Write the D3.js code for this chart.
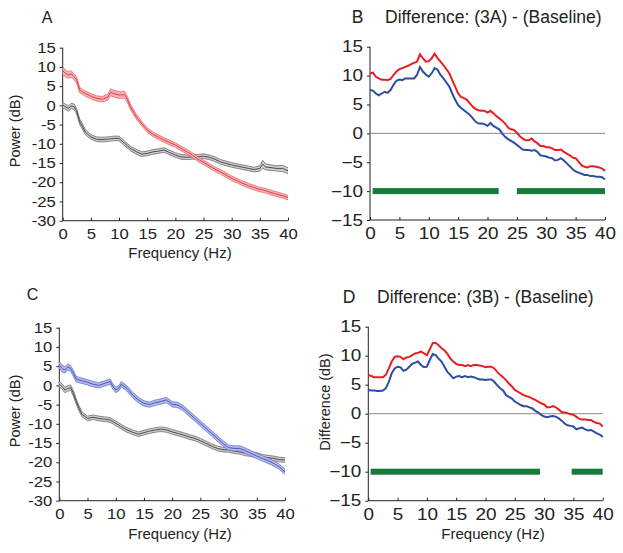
<!DOCTYPE html>
<html><head><meta charset="utf-8">
<script src="https://cdn.jsdelivr.net/npm/d3@7"></script>
<style>
html,body{margin:0;padding:0;background:#fff;}
svg{display:block;}
</style></head>
<body>
<svg id="chart" width="623" height="553"></svg>
<script>
// ---------------- DATA ----------------
const xTicks = [0,5,10,15,20,25,30,35,40];
const yTicksPower = [15,10,5,0,-5,-10,-15,-20,-25,-30];
const yTicksDiff = [15,10,5,0,-5,-10,-15];

// Panel A
const freqA = [0,0.5,1,1.5,2,2.5,3,3.5,4,5,6,7,8,8.5,9,10,11,11.5,12,13,14,15,16,17,18,19,20,21,22,23,24,25,26,27,28,29,30,31,32,33,34,35,35.5,36,37,38,39,40];
const powerA_3A = [9.0,8.3,7.9,8.2,7.5,6.5,4.0,3.5,3.1,2.4,1.8,1.6,2.1,3.4,3.1,2.7,2.8,1.5,-0.3,-2.8,-4.7,-6.4,-7.5,-8.3,-9.0,-9.7,-10.3,-11.2,-12.0,-12.9,-14.0,-14.8,-15.7,-16.6,-17.3,-18.1,-19.0,-19.6,-20.3,-20.9,-21.4,-21.9,-22.0,-22.2,-22.7,-23.1,-23.5,-24.0];
const semA_3A = [1.0,0.9,0.9,0.8,0.8,0.8,0.7,0.7,0.7,0.7,0.7,0.7,0.8,0.9,0.9,0.9,0.9,0.8,0.7,0.7,0.6,0.6,0.6,0.6,0.6,0.6,0.6,0.6,0.6,0.6,0.6,0.6,0.6,0.6,0.6,0.6,0.6,0.6,0.6,0.6,0.6,0.6,0.6,0.6,0.6,0.6,0.6,0.6];
const powerA_base = [0.1,-0.4,-0.8,-0.2,-0.3,-1.6,-4.2,-5.5,-6.9,-8.2,-8.8,-8.9,-8.8,-8.7,-8.6,-8.6,-9.9,-10.5,-11.2,-12.0,-12.7,-12.5,-12.1,-11.9,-11.6,-12.3,-12.9,-13.4,-13.5,-13.4,-13.4,-13.2,-13.5,-14.0,-14.7,-15.1,-15.5,-15.8,-16.1,-16.4,-16.7,-16.4,-15.3,-16.0,-16.2,-16.4,-16.4,-17.0];
const semA_base = [0.7,0.7,0.7,0.7,0.7,0.7,0.7,0.7,0.7,0.6,0.6,0.6,0.6,0.6,0.6,0.6,0.6,0.6,0.6,0.6,0.6,0.6,0.6,0.6,0.6,0.6,0.6,0.6,0.6,0.6,0.6,0.6,0.6,0.6,0.6,0.6,0.6,0.6,0.6,0.6,0.6,0.7,1.0,0.8,0.7,0.7,0.8,0.8];

// Panel C
const freqC = [0,0.5,1,1.5,2,2.5,3,3.5,4,5,6,7,8,9,9.5,10,10.5,11,12,13,14,15,16,17,18,19,20,21,22,23,24,25,26,27,28,29,30,31,32,33,34,35,36,37,38,39,40];
const powerC_3B = [5.3,4.4,4.0,4.8,4.4,3.1,1.6,1.4,1.2,0.8,0.3,0.0,0.5,1.0,-0.3,-1.2,-0.8,0.3,-0.8,-2.5,-3.8,-4.7,-5.0,-4.5,-4.2,-3.8,-4.9,-5.1,-6.0,-7.3,-8.6,-9.9,-11.2,-12.5,-13.8,-15.1,-16.2,-16.4,-16.4,-17.0,-17.7,-18.4,-19.0,-19.6,-20.3,-21.2,-22.5];
const semC_3B = [0.9,0.9,0.8,0.8,0.8,0.8,0.7,0.7,0.7,0.7,0.7,0.7,0.7,0.7,0.7,0.7,0.7,0.7,0.7,0.7,0.7,0.7,0.7,0.7,0.7,0.7,0.7,0.7,0.7,0.7,0.7,0.7,0.7,0.7,0.7,0.7,0.7,0.7,0.7,0.7,0.7,0.7,0.7,0.7,0.7,0.7,0.7];
const powerC_base = [0.3,-0.3,-1.2,-0.8,-0.6,-2.1,-4.2,-6.0,-7.5,-8.6,-8.3,-8.6,-8.8,-9.0,-9.4,-9.9,-10.3,-10.8,-11.6,-12.2,-12.7,-12.3,-11.9,-11.6,-11.4,-11.6,-12.1,-12.5,-12.9,-13.4,-13.8,-14.4,-15.1,-15.8,-16.4,-16.7,-16.8,-17.1,-17.3,-17.7,-17.9,-18.1,-18.6,-18.8,-19.0,-19.3,-19.4];
const semC_base = [0.7,0.7,0.7,0.7,0.7,0.7,0.7,0.7,0.6,0.6,0.6,0.6,0.6,0.6,0.6,0.6,0.6,0.6,0.6,0.6,0.6,0.6,0.6,0.6,0.6,0.6,0.6,0.6,0.6,0.6,0.6,0.6,0.6,0.6,0.6,0.6,0.6,0.6,0.6,0.6,0.6,0.6,0.6,0.6,0.6,0.6,0.6];

// Panels B and D (0.5 Hz grid)
const freqDiff = [0,0.5,1,1.5,2,2.5,3,3.5,4,4.5,5,5.5,6,6.5,7,7.5,8,8.5,9,9.5,10,10.5,11,11.5,12,12.5,13,13.5,14,14.5,15,15.5,16,16.5,17,17.5,18,18.5,19,19.5,20,20.5,21,21.5,22,22.5,23,23.5,24,24.5,25,25.5,26,26.5,27,27.5,28,28.5,29,29.5,30,30.5,31,31.5,32,32.5,33,33.5,34,34.5,35,35.5,36,36.5,37,37.5,38,38.5,39,39.5,40];
const diffB_upper = [10.4,10.5,9.8,9.5,9.3,9.3,9.2,9.4,10.1,10.7, 11.1,11.3,11.5,11.7,12.0,12.2,12.4,13.7,13.0,12.4, 12.5,13.0,13.8,13.0,12.4,11.8,11.1,10.4,9.2,8.1, 6.9,6.3,6.1,5.8,5.2,4.6,4.2,4.0,3.9,3.9, 3.6,3.9,3.5,3.0,2.6,2.2,1.7,1.0,0.7,0.6, 0.1,-0.5,-0.9,-1.2,-1.2,-0.9,-1.4,-1.7,-2.2,-2.2, -2.4,-2.4,-2.6,-2.9,-2.9,-2.8,-3.2,-3.5,-3.8,-4.2, -4.3,-4.9,-5.5,-5.8,-5.9,-5.7,-5.7,-5.8,-5.9,-6.1,-6.5];
const diffB_lower = [7.5,7.4,6.9,6.6,6.9,7.2,7.0,7.5,8.4,9.1, 9.3,9.2,9.5,9.5,9.5,9.5,10.1,11.5,10.7,10.2, 9.8,10.4,11.3,11.0,10.1,9.5,8.8,8.1,6.9,5.8, 4.9,4.4,4.0,3.6,3.2,2.6,2.0,1.7,1.7,1.6, 1.3,1.8,1.3,1.0,0.7,0.0,-0.6,-1.0,-1.3,-1.6, -2.0,-2.4,-2.8,-2.9,-2.9,-3.0,-2.9,-3.2,-3.8,-3.9, -4.0,-4.2,-4.3,-4.7,-4.6,-4.3,-4.7,-5.2,-5.7,-6.2, -6.6,-6.8,-7.0,-7.2,-7.2,-7.4,-7.4,-7.5,-7.5,-7.6,-8.0];
const diffD_upper = [6.7,6.5,6.3,6.3,6.3,6.3,6.7,7.8,9.0,9.8, 9.9,9.8,9.4,9.7,9.8,10.1,10.4,10.5,10.7,10.4, 10.1,11.1,12.2,12.2,11.8,11.3,10.9,10.3,9.5,9.0, 8.6,8.4,8.4,8.2,8.4,8.2,8.4,8.4,8.3,8.2, 8.0,8.1,8.1,7.8,7.2,6.7,6.3,5.8,5.2,4.7, 4.1,3.8,3.5,3.2,3.0,2.9,2.6,2.4,2.1,1.8, 1.6,1.1,1.1,1.3,1.1,0.7,0.3,0.2,0.1,-0.1, -0.2,-0.5,-0.9,-1.0,-1.0,-1.1,-1.1,-1.4,-1.6,-1.7,-2.2];
const diffD_lower = [4.1,4.0,4.0,3.9,3.9,4.0,4.4,5.5,7.0,7.8, 8.1,8.0,7.4,7.6,8.1,8.6,8.8,9.0,8.4,8.0, 8.1,9.3,10.3,10.1,9.5,9.0,8.1,7.2,6.7,6.1, 6.4,6.5,6.3,6.5,6.3,6.4,6.3,6.1,5.9,5.9, 5.8,5.9,5.9,5.5,4.9,4.4,4.0,3.2,2.9,2.6, 2.1,1.8,1.5,1.3,1.3,1.1,0.9,0.5,0.2,-0.2, -0.5,-0.6,-0.5,-0.4,-0.5,-0.8,-1.2,-1.7,-2.0,-2.1, -2.2,-2.7,-2.5,-2.4,-2.7,-2.9,-2.8,-3.1,-3.4,-3.6,-4.0];

// significance bars [start Hz, end Hz] at -10
const sigB = [[0.45,21.9],[25,40]];
const sigD = [[0.4,29.3],[34.7,40]];
const sigLevel = -10;

// ---------------- DRAW ----------------
const svg = d3.select("#chart");
const sansA = "'Liberation Sans', Arial, sans-serif";

function axesPanel(o){
  const g = svg.append("g");
  const x = d3.scaleLinear().domain([0,40]).range([o.left,o.right]);
  const y = d3.scaleLinear().domain(o.yDomain).range([o.bottom,o.top]);
  const fmt = o.hyphen ? (d=>String(d)) : d3.format("");
  const ya = g.append("g").attr("transform",`translate(${o.left},0)`)
    .call(d3.axisLeft(y).tickValues(o.yTicks).tickSize(3).tickPadding(4).tickFormat(fmt));
  const xa = g.append("g").attr("transform",`translate(0,${o.bottom})`)
    .call(d3.axisBottom(x).tickValues(xTicks).tickSize(-3).tickPadding(8).tickFormat(fmt));
  [ya,xa].forEach(a=>{
    a.select(".domain").attr("stroke","#222").attr("stroke-width",1);
    a.selectAll(".tick line").attr("stroke","#222");
    a.selectAll("text").attr("fill","#222").attr("font-family",sansA).attr("font-size",o.tickFont);
  });
  // horizontally widened tick labels, as in the reference
  ya.selectAll("text").attr("x",-7/o.sx).attr("transform",`scale(${o.sx},1)`);
  xa.selectAll("text").attr("transform",`scale(${o.sx},1)`);
  xa.select(".domain").attr("d",`M${o.left},0H${o.right}`);
  ya.select(".domain").attr("d",`M0,${o.bottom}V${o.top}`);
  return {g,x,y};
}

function band(p, freq, mean, sem, fill, edge, center){
  const data = freq.map((f,i)=>({f, m:mean[i], s:sem[i]}));
  p.g.append("path").datum(data)
    .attr("d", d3.area().x(d=>p.x(d.f)).y0(d=>p.y(d.m-d.s)).y1(d=>p.y(d.m+d.s)))
    .attr("fill",fill).attr("stroke","none");
  [1,-1].forEach(sg=>{
    p.g.append("path").datum(data)
      .attr("d", d3.line().x(d=>p.x(d.f)).y(d=>p.y(d.m+sg*d.s)))
      .attr("fill","none").attr("stroke",edge).attr("stroke-width",0.7);
  });
  p.g.append("path").datum(data)
    .attr("d", d3.line().x(d=>p.x(d.f)).y(d=>p.y(d.m)))
    .attr("fill","none").attr("stroke",center).attr("stroke-width",0.9);
}

function diffLines(p, upper, lower, sig){
  p.g.append("line").attr("x1",p.x(0)).attr("x2",p.x(40)).attr("y1",p.y(0)).attr("y2",p.y(0))
    .attr("stroke","#8a8a8a").attr("stroke-width",1);
  sig.forEach(s=>{
    p.g.append("rect").attr("x",p.x(s[0])).attr("width",p.x(s[1])-p.x(s[0]))
      .attr("y",p.y(sigLevel)-3).attr("height",6).attr("fill","#17793a");
  });
  const ln = d3.line().x((d,i)=>p.x(freqDiff[i])).y(d=>p.y(d));
  p.g.append("path").datum(lower).attr("d",ln).attr("fill","none").attr("stroke","#2f4ca3").attr("stroke-width",2);
  p.g.append("path").datum(upper).attr("d",ln).attr("fill","none").attr("stroke","#ec1c24").attr("stroke-width",2);
}

function text(x,y,str,size,anchor,rot){
  const t = svg.append("text").attr("x",x).attr("y",y).text(str)
    .attr("font-family",sansA).attr("font-size",size).attr("fill","#222")
    .attr("text-anchor",anchor||"start");
  if(rot) t.attr("transform",`rotate(-90,${x},${y})`);
  return t;
}

// Panel A
const pA = axesPanel({left:62.7,right:288,top:47.7,bottom:220.7,yDomain:[-30,15],yTicks:yTicksPower,hyphen:true,tickFont:14.5,sx:1.15});
band(pA, freqA, powerA_base, semA_base, "#cfcfcf", "#5a5a5a", "#3a3a3a");
band(pA, freqA, powerA_3A, semA_3A, "#f7b2b7", "#e55b64", "#d8323c");
text(47,23,"A",16,"middle");
text(180,258,"Frequency (Hz)",15,"middle");
text(20,131,"Power (dB)",14.5,"middle",true);

// Panel B
const pB = axesPanel({left:370,right:605,top:46.7,bottom:220,yDomain:[-15,15],yTicks:yTicksDiff,hyphen:false,tickFont:16,sx:1.18});
diffLines(pB, diffB_upper, diffB_lower, sigB);
text(357.5,23,"B",17.5,"middle");
text(385,23,"Difference: (3A) - (Baseline)",17.5,"start");

// Panel C
const pC = axesPanel({left:59.3,right:285,top:327.7,bottom:500.7,yDomain:[-30,15],yTicks:yTicksPower,hyphen:true,tickFont:14.5,sx:1.15});
band(pC, freqC, powerC_base, semC_base, "#cfcfcf", "#5a5a5a", "#3a3a3a");
band(pC, freqC, powerC_3B, semC_3B, "#b3b9ea", "#5f6ac9", "#3f4cb5");
text(32.5,300,"C",16,"middle");
text(180,539,"Frequency (Hz)",15,"middle");
text(20,411,"Power (dB)",14.5,"middle",true);

// Panel D
const pD = axesPanel({left:368.3,right:602.7,top:326.7,bottom:500.7,yDomain:[-15,15],yTicks:yTicksDiff,hyphen:false,tickFont:16,sx:1.18});
diffLines(pD, diffD_upper, diffD_lower, sigD);
text(349,303,"D",17.5,"middle");
text(377,303,"Difference: (3B) - (Baseline)",17.5,"start");
text(493,539,"Frequency (Hz)",15,"middle");
text(330,402,"Difference (dB)",14.5,"middle",true);
</script>
</body></html>
